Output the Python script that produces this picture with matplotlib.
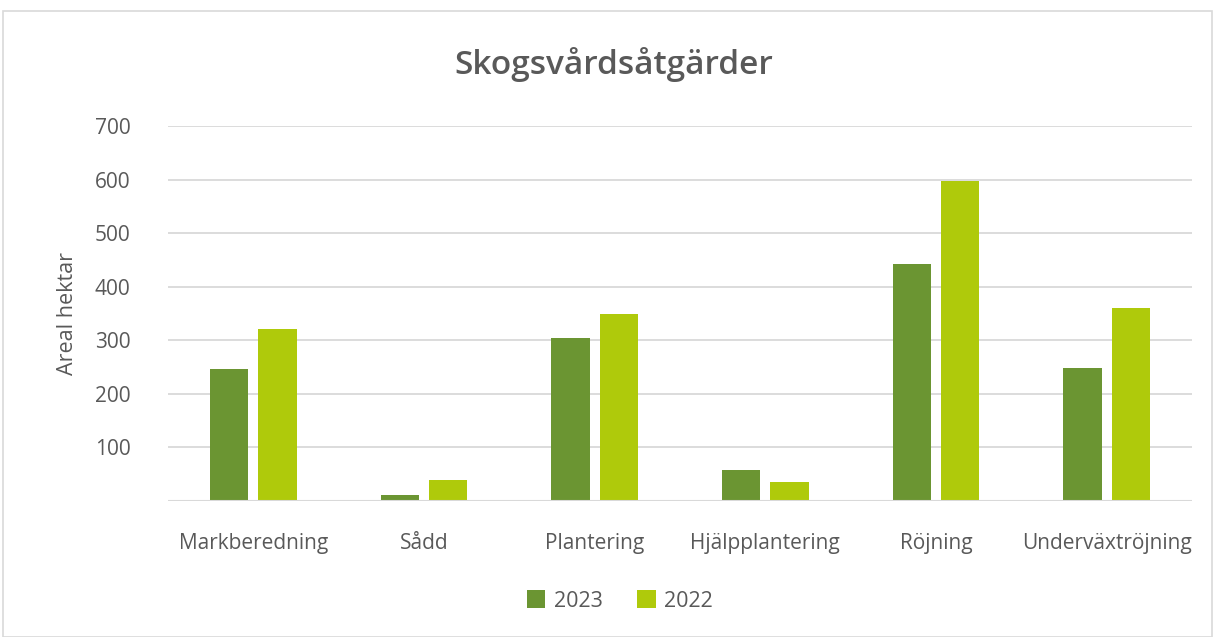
import matplotlib
matplotlib.use("Agg")
import matplotlib.pyplot as plt
import numpy as np
from matplotlib.patches import Rectangle

categories = ["Markberedning", "Sådd", "Plantering", "Hjälpplantering", "Röjning", "Underväxtröjning"]
series_names = ["2023", "2022"]
values_2023 = [247, 12, 304, 58, 442, 248]
values_2022 = [321, 39, 350, 35, 597, 361]
yticks = [100, 200, 300, 400, 500, 600, 700]

colors = ["#6B9532", "#AFCA0B"]
text_color = "#595959"

plt.rcParams['font.family'] = ['Open Sans', 'DejaVu Sans']

fig = plt.figure(figsize=(12.15, 6.37), dpi=100)
fig.patches.append(Rectangle((3/1215, 0), 1209/1215, 626/637, transform=fig.transFigure,
                             fill=False, edgecolor="#D9D9D9", linewidth=1.2))
ax = fig.add_axes([168/1215, 1 - 501/637, (1192-168)/1215, (501-126)/637])

x = np.arange(len(categories))
w = 0.225
off = 0.142
ax.bar(x - off, values_2023, w, color=colors[0], label=series_names[0], zorder=3)
ax.bar(x + off, values_2022, w, color=colors[1], label=series_names[1], zorder=3)

ax.set_xlim(-0.5, len(categories) - 0.5)
ax.set_ylim(0, 700)
ax.set_yticks(yticks)
ax.set_yticklabels([str(v) for v in yticks])
ax.set_xticks(x)
ax.set_xticklabels(categories)
ax.grid(axis='y', color="#D9D9D9", linewidth=1.3, zorder=0)
ax.axhline(0, color="#D9D9D9", linewidth=1.5, zorder=4)
for s in ax.spines.values():
    s.set_visible(False)
ax.tick_params(axis='both', length=0, labelsize=15, colors=text_color)
ax.tick_params(axis='x', pad=23)
ax.tick_params(axis='y', pad=27)
ax.set_ylabel("Areal hektar", fontsize=15.5, color=text_color, labelpad=12)

fig.text(614/1215, 1 - 64/637, "Skogsvårdsåtgärder", ha='center', va='center',
         fontsize=24, fontweight='semibold', color=text_color)

leg = fig.legend(loc='center', bbox_to_anchor=(620/1215, 1 - 601/637), ncol=2, frameon=False,
                 fontsize=15.5, handlelength=0.85, handleheight=0.85, handletextpad=0.4,
                 columnspacing=1.6)
for t in leg.get_texts():
    t.set_color(text_color)

fig.savefig("out.png", dpi=100)
